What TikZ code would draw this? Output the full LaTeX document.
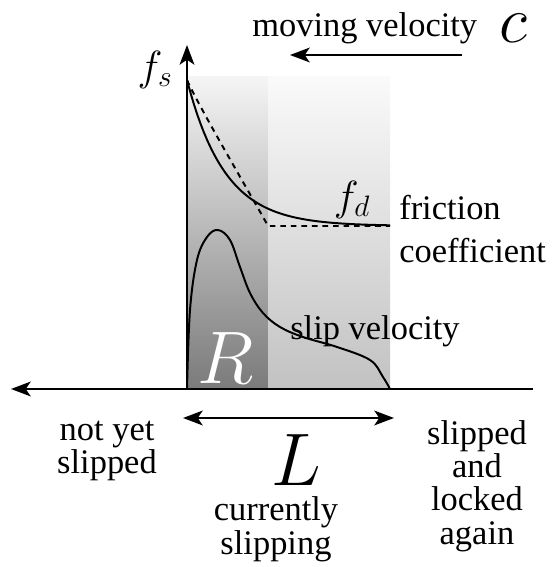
\RequirePackage{fix-cm}
\documentclass[tikz,border=0pt]{standalone}
\usepackage{fontspec}
\setmainfont{Liberation Serif}
\usetikzlibrary{arrows.meta}

\begin{document}
\begin{tikzpicture}[
    x=0.025cm, y=0.025cm,
    >={Stealth[length=14pt, width=10.5pt, inset=3.5pt]},
    txt/.style={inner sep=0pt, font=\fontsize{24.5}{23.5}\selectfont, align=center},
    bigmath/.style={inner sep=0pt, font=\fontsize{53}{60}\selectfont},
    midmath/.style={inner sep=0pt, font=\fontsize{30}{36}\selectfont},
    arrow/.style={->, line width=1.4pt},
    curve/.style={line width=1.4pt}
]
\useasboundingbox (0,0) rectangle (556,567);

% Shaded zones
\shade[top color=black!4, bottom color=black!52] (187,178) rectangle (268,490);
\shade[top color=black!2, bottom color=black!24] (268,178) rectangle (390,490);

% Axes
\coordinate (origin) at (187,178);
\coordinate (xleft) at (11,178);
\coordinate (xright) at (533,178);
\coordinate (ytop) at (187,522);
\draw[arrow] (xright) -- (xleft);
\draw[arrow] (origin) -- (ytop);

% Friction coefficient
\draw[curve, domain=187:390, samples=60] plot (\x, {341+146*exp(-(\x-187)/38)});
\draw[curve, dashed, dash pattern=on 4pt off 3.5pt] (187,487) .. controls (200,458) and (255,365) .. (268,341) -- (390,341);

% Slip velocity
\draw[curve] plot[smooth, tension=0.6] coordinates {(187,178) (190,257) (197,307) (207,330) (218,337) (230,327) (240,300) (250,274) (263,254) (280,240) (303,230) (337,220) (370,207) (383,190) (390,178)};

% Labels
\node[bigmath, text=white] (R) at (226,209) {$R$};
\node[midmath] (fs) at (155,497) {$f_s$};
\node[midmath] (fd) at (352,367) {$f_d$};
\node[txt, align=left, anchor=west, font=\fontsize{24.5}{30.6}\selectfont] (friction) at (399,338) {friction\\coefficient};
\node[txt, anchor=base] (slip) at (375,227) {slip velocity};
\node[txt, anchor=base west] (moving) at (252,530) {moving velocity};
\node[bigmath, font=\fontsize{47}{56}\selectfont] (c) at (513,539) {$c$};

% Velocity arrow
\coordinate (vstart) at (462,512);
\coordinate (vend) at (290,512);
\draw[arrow] (vstart) -- (vend);

% Slipping length
\coordinate (Lleft) at (183,149);
\coordinate (Lright) at (394,149);
\draw[<->, line width=1.4pt] (Lleft) -- (Lright);
\node[bigmath] (L) at (296,107) {$L$};

% Zones under the axis
\node[txt, anchor=base] (notyet) at (107,93) {not yet\\slipped};
\node[txt, anchor=base] (current) at (276,13) {currently\\slipping};
\node[txt, anchor=base] (locked) at (477,23) {slipped\\and\\locked\\again};
\end{tikzpicture}
\end{document}
